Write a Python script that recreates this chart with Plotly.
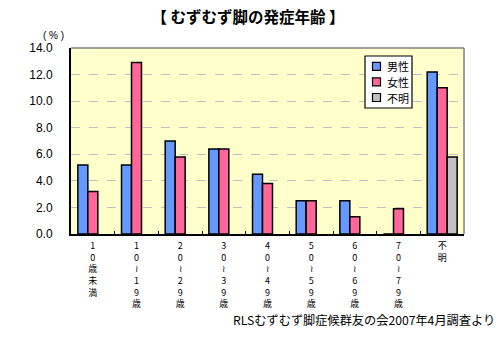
import plotly.graph_objects as go

# Age groups; the tick text is stacked one character per line
categories = ["10歳未満", "10〜19歳", "20〜29歳", "30〜39歳", "40〜49歳",
              "50〜59歳", "60〜69歳", "70〜79歳", "不明"]
tick_labels = [
    "1<br>0<br>歳<br>未<br>満",
    "1<br>0<br>≀<br>1<br>9<br>歳",
    "2<br>0<br>≀<br>2<br>9<br>歳",
    "3<br>0<br>≀<br>3<br>9<br>歳",
    "4<br>0<br>≀<br>4<br>9<br>歳",
    "5<br>0<br>≀<br>5<br>9<br>歳",
    "6<br>0<br>≀<br>6<br>9<br>歳",
    "7<br>0<br>≀<br>7<br>9<br>歳",
    "不<br>明",
]

male = [5.2, 5.2, 7.0, 6.4, 4.5, 2.5, 2.5, 0.0, 12.2]
female = [3.2, 12.9, 5.8, 6.4, 3.8, 2.5, 1.3, 1.9, 11.0]
unknown = [None, None, None, None, None, None, None, None, 5.8]

series_names = ["男性", "女性", "不明"]
series_colors = ["#6699FF", "#FF6699", "#C0C0C0"]

y_ticks = [0, 2, 4, 6, 8, 10, 12, 14]

FONT = "Noto Sans CJK JP"
NUM_FONT = "Liberation Sans"
outline = dict(color="black", width=1.5)

# plot area in pixels, used to place the hand-built legend and notes
L, R, T, B = 71, 464, 48, 234
W, H = R - L, B - T


def px_x(x):
    return (x - L) / W


def px_y(y):
    return (B - y) / H


fig = go.Figure()
for name, color, vals in zip(series_names, series_colors,
                             [male, female, unknown]):
    fig.add_trace(go.Bar(name=name, x=categories, y=vals,
                         marker=dict(color=color, line=outline)))

annotations = [
    dict(text="( % )", x=px_x(53), y=px_y(35), xref="paper", yref="paper",
         xanchor="center", yanchor="middle", showarrow=False,
         font=dict(family=NUM_FONT, size=10, color="black")),
    dict(text="RLSむずむず脚症候群友の会2007年4月調査より",
         x=px_x(497), y=px_y(320), xref="paper", yref="paper",
         xanchor="right", yanchor="middle", showarrow=False,
         font=dict(family=FONT, size=12.2, color="black")),
]

# legend: white box with a swatch and a name per series
shapes = [
    dict(type="line", xref="paper", yref="paper", x0=0, x1=1, y0=1, y1=1,
         line=dict(color="#808080", width=1.5)),
    dict(type="line", xref="paper", yref="paper", x0=1, x1=1, y0=0, y1=1,
         line=dict(color="#808080", width=1.5)),
    dict(type="rect", xref="paper", yref="paper",
         x0=px_x(365), x1=px_x(412), y0=px_y(108), y1=px_y(56),
         fillcolor="white", line=dict(color="black", width=1.2)),
]
for i, (name, color) in enumerate(zip(series_names, series_colors)):
    cy = 66.3 + i * 15.6
    shapes.append(dict(type="rect", xref="paper", yref="paper",
                       x0=px_x(372.5), x1=px_x(380.5),
                       y0=px_y(cy + 4), y1=px_y(cy - 4),
                       fillcolor=color, line=dict(color="black", width=1.2)))
    annotations.append(dict(text=name, x=px_x(385), y=px_y(cy),
                            xref="paper", yref="paper", xanchor="left",
                            yanchor="middle", showarrow=False,
                            font=dict(family=FONT, size=11, color="black")))

fig.update_layout(
    width=500, height=338,
    margin=dict(l=L, r=500 - R, t=T, b=338 - B),
    paper_bgcolor="white", plot_bgcolor="#FFFFCC",
    barmode="group", bargap=0.314, bargroupgap=0,
    font=dict(family=FONT, size=12, color="black"),
    title=dict(text="<b>【 むずむず脚の発症年齢 】</b>", x=248 / 500,
               xanchor="center", y=1 - 18 / 338, yanchor="middle",
               font=dict(family=FONT, size=15.5, color="black")),
    showlegend=False,
    annotations=annotations,
    shapes=shapes,
)

fig.update_xaxes(tickmode="array", tickvals=categories, ticktext=tick_labels,
                 tickfont=dict(family=FONT, size=9, color="black"),
                 showline=True, linecolor="black", linewidth=2,
                 ticks="inside", ticklen=3, tickwidth=1, tickcolor="black",
                 tickson="boundaries", showgrid=False, ticklabelstandoff=2)
fig.update_yaxes(range=[0, 14], tickvals=y_ticks, tickformat=".1f",
                 showline=True, linecolor="black", linewidth=2,
                 showgrid=True, gridcolor="#C0C0C0", griddash="dash",
                 gridwidth=1, zeroline=False, ticks="",
                 ticklabelstandoff=14,
                 tickfont=dict(family=NUM_FONT, size=12, color="black"))

fig.write_html("out.html")
